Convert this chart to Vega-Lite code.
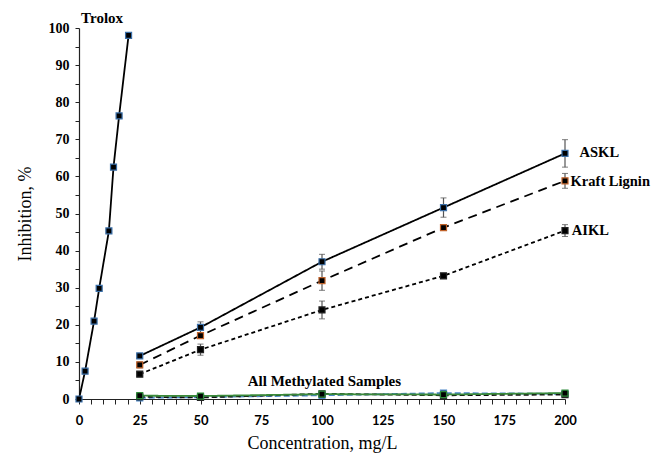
{
  "$schema": "https://vega.github.io/schema/vega-lite/v6.json",
  "width": 486,
  "height": 371,
  "autosize": {"type": "none"},
  "padding": {"left": 79, "top": 28, "right": 88, "bottom": 59},
  "background": "white",
  "config": {"view": {"stroke": null}},
  "datasets": {
    "pts": [
      {"series": "Trolox", "x": 0, "y": 0, "err": 0},
      {"series": "Trolox", "x": 2.5, "y": 7.5, "err": 0},
      {"series": "Trolox", "x": 6.2, "y": 21, "err": 0},
      {"series": "Trolox", "x": 8.3, "y": 29.8, "err": 0},
      {"series": "Trolox", "x": 12.3, "y": 45.3, "err": 0},
      {"series": "Trolox", "x": 14.2, "y": 62.5, "err": 0},
      {"series": "Trolox", "x": 16.5, "y": 76.3, "err": 0},
      {"series": "Trolox", "x": 20.4, "y": 98, "err": 0},
      {"series": "ASKL", "x": 25, "y": 11.6, "err": 0.5},
      {"series": "ASKL", "x": 50, "y": 19.3, "err": 1.5},
      {"series": "ASKL", "x": 100, "y": 37.0, "err": 2.0},
      {"series": "ASKL", "x": 150, "y": 51.6, "err": 2.6},
      {"series": "ASKL", "x": 200, "y": 66.2, "err": 3.7},
      {"series": "Kraft Lignin", "x": 25, "y": 9.2, "err": 0.8},
      {"series": "Kraft Lignin", "x": 50, "y": 17.1, "err": 0.8},
      {"series": "Kraft Lignin", "x": 100, "y": 31.9, "err": 2.6},
      {"series": "Kraft Lignin", "x": 150, "y": 46.2, "err": 0.5},
      {"series": "Kraft Lignin", "x": 200, "y": 58.8, "err": 2.0},
      {"series": "AIKL", "x": 25, "y": 6.7, "err": 0.5},
      {"series": "AIKL", "x": 50, "y": 13.3, "err": 1.5},
      {"series": "AIKL", "x": 100, "y": 24.0, "err": 2.4},
      {"series": "AIKL", "x": 150, "y": 33.2, "err": 0.6},
      {"series": "AIKL", "x": 200, "y": 45.4, "err": 1.6},
      {"series": "M1", "x": 25, "y": 0.3, "err": 0},
      {"series": "M1", "x": 50, "y": 0.5, "err": 0},
      {"series": "M1", "x": 100, "y": 1.0, "err": 0},
      {"series": "M1", "x": 150, "y": 1.6, "err": 0},
      {"series": "M1", "x": 200, "y": 1.4, "err": 0},
      {"series": "M2", "x": 25, "y": 0.6, "err": 0},
      {"series": "M2", "x": 50, "y": 0.4, "err": 0},
      {"series": "M2", "x": 100, "y": 1.4, "err": 0},
      {"series": "M2", "x": 150, "y": 1.0, "err": 0},
      {"series": "M2", "x": 200, "y": 1.2, "err": 0},
      {"series": "M3", "x": 25, "y": 0.9, "err": 0},
      {"series": "M3", "x": 50, "y": 0.8, "err": 0},
      {"series": "M3", "x": 100, "y": 1.3, "err": 0},
      {"series": "M3", "x": 150, "y": 1.2, "err": 0},
      {"series": "M3", "x": 200, "y": 1.6, "err": 0}
    ],
    "labelsC": [
      {"text": "Trolox", "x": 9.5, "y": 102.7},
      {"text": "All Methylated Samples", "x": 101, "y": 4.9}
    ],
    "labelsL": [
      {"text": "ASKL", "x": 206, "y": 66.3},
      {"text": "Kraft Lignin", "x": 202.3, "y": 58.5},
      {"text": "AIKL", "x": 202.8, "y": 45.3}
    ]
  },
  "encoding": {
    "x": {
      "field": "x", "type": "quantitative",
      "scale": {"domain": [0, 200], "nice": false},
      "axis": {
        "values": [0,5,10,15,20,25,30,35,40,45,50,55,60,65,70,75,80,85,90,95,100,105,110,115,120,125,130,135,140,145,150,155,160,165,170,175,180,185,190,195,200],
        "labelExpr": "datum.value % 25 == 0 ? datum.label : ''",
        "labelOverlap": false, "labelBound": false, "labelFlush": false,
        "grid": false, "domainColor": "#222", "domainWidth": 1.2,
        "tickColor": "#222", "tickSize": 5, "tickWidth": 1,
        "labelFont": "Lato", "labelFontWeight": "bold", "labelFontSize": 13, "labelColor": "#000",
        "labelPadding": 10,
        "title": "Concentration, mg/L", "titleFont": "Liberation Serif", "titleFontWeight": "normal",
        "titleFontSize": 18, "titleColor": "#000", "titlePadding": 7
      }
    },
    "y": {
      "field": "y", "type": "quantitative",
      "scale": {"domain": [0, 100], "nice": false},
      "axis": {
        "values": [0,5,10,15,20,25,30,35,40,45,50,55,60,65,70,75,80,85,90,95,100],
        "labelExpr": "datum.value % 10 == 0 ? datum.label : ''",
        "labelOverlap": false, "labelBound": false, "labelFlush": false,
        "grid": false, "domainColor": "#222", "domainWidth": 1.2,
        "tickColor": "#222", "tickSize": 4, "tickWidth": 1,
        "labelFont": "Liberation Serif", "labelFontWeight": "bold", "labelFontSize": 14, "labelColor": "#000",
        "labelPadding": 6,
        "title": "Inhibition, %", "titleFont": "Liberation Serif", "titleFontWeight": "normal",
        "titleFontSize": 18, "titleColor": "#000", "titlePadding": 14
      }
    }
  },
  "layer": [
    {
      "data": {"name": "pts"},
      "mark": {"type": "line", "strokeWidth": 1.8},
      "encoding": {
        "detail": {"field": "series"},
        "color": {
          "field": "series", "type": "nominal", "legend": null,
          "scale": {
            "domain": ["Trolox", "ASKL", "Kraft Lignin", "AIKL", "M1", "M2", "M3"],
            "range": ["#000", "#000", "#000", "#000", "#4a86c8", "#111", "#3a8a3a"]
          }
        },
        "strokeDash": {
          "field": "series", "type": "nominal", "legend": null,
          "scale": {
            "domain": ["Trolox", "ASKL", "Kraft Lignin", "AIKL", "M1", "M2", "M3"],
            "range": [[1, 0], [1, 0], [9, 6], [4, 3], [6, 3], [5, 3], [1, 0]]
          }
        }
      }
    },
    {
      "data": {"name": "pts"},
      "transform": [{"filter": "datum.err > 0"}],
      "mark": {"type": "errorbar", "ticks": {"size": 6, "color": "#444"}, "rule": {"color": "#555", "strokeWidth": 1.2}},
      "encoding": {
        "yError": {"field": "err"}
      }
    },
    {
      "data": {"name": "pts"},
      "mark": {"type": "point", "shape": "square", "filled": true, "size": 36, "strokeWidth": 1.2, "opacity": 1},
      "encoding": {
        "fill": {"value": "#000"},
        "stroke": {
          "field": "series", "type": "nominal", "legend": null,
          "scale": {
            "domain": ["Trolox", "ASKL", "Kraft Lignin", "AIKL", "M1", "M2", "M3"],
            "range": ["#3b6fa8", "#3b6fa8", "#c0622a", "#222", "#4a86c8", "#222", "#2e8b3a"]
          }
        }
      }
    },
    {
      "data": {"name": "labelsC"},
      "mark": {"type": "text", "font": "Liberation Serif", "fontWeight": "bold", "fontSize": 15, "color": "#000", "baseline": "middle", "align": "center"},
      "encoding": {
        "text": {"field": "text"}
      }
    },
    {
      "data": {"name": "labelsL"},
      "mark": {"type": "text", "font": "Liberation Serif", "fontWeight": "bold", "fontSize": 14.5, "color": "#000", "baseline": "middle", "align": "left"},
      "encoding": {
        "text": {"field": "text"}
      }
    }
  ]
}
